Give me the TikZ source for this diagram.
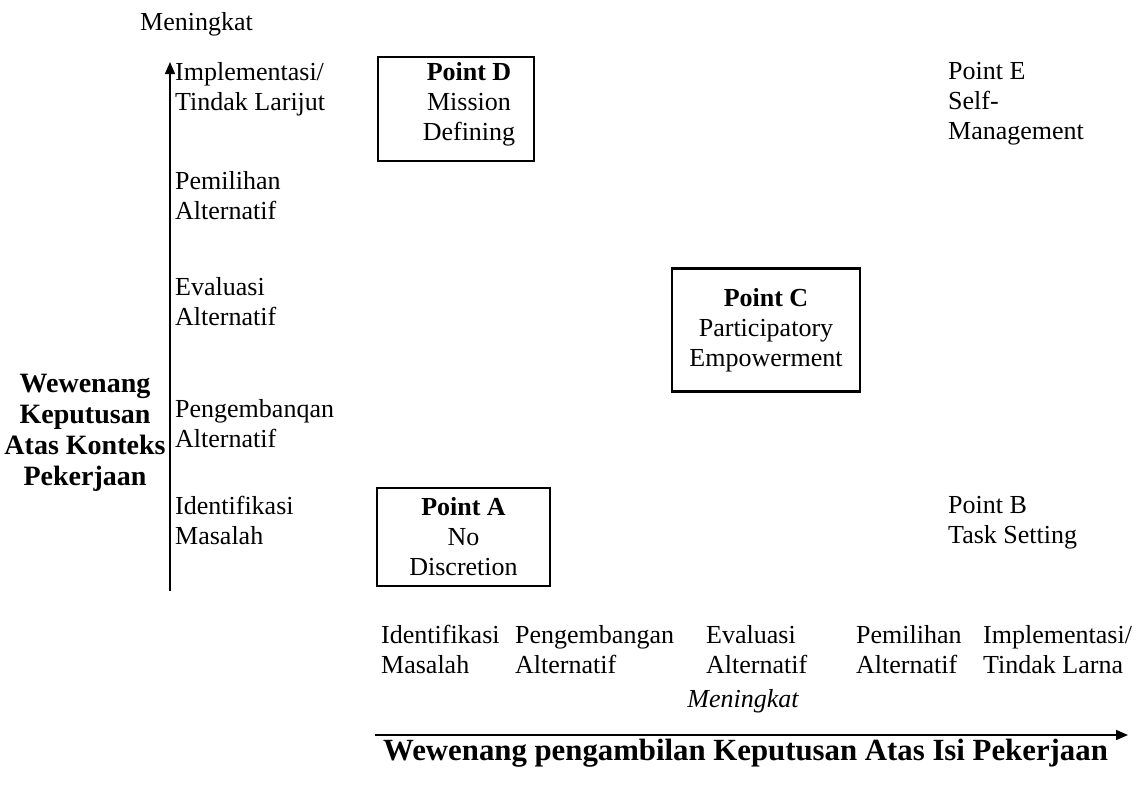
\documentclass[tikz,border=0pt]{standalone}
\usepackage{fontspec}
\setmainfont{Liberation Serif}
\usetikzlibrary{arrows.meta}
\newcommand{\bodyfont}{\fontsize{26}{30}\selectfont}
\newcommand{\sidefont}{\fontsize{28}{31}\selectfont\bfseries}
\newcommand{\titlefont}{\fontsize{30.8}{34}\selectfont\bfseries}
\begin{document}
\begin{tikzpicture}[x=1pt,y=-1pt,
  txt/.style={font=\bodyfont, inner sep=0pt, align=left, anchor=north west},
  pointbox/.style={draw, line width=2.5pt, font=\bodyfont, align=center, inner sep=0pt},
  axis/.style={line width=1.6pt, -{Triangle[length=12pt,width=10pt]}}]
\useasboundingbox (0,0) rectangle (1144,793);

% vertical axis
\coordinate (vb) at (170,591);
\coordinate (vt) at (170,62);
\draw[axis] (vb) -- (vt);
\node[font=\bodyfont, inner sep=0pt, anchor=base west] (mtop) at (140,30) {Meningkat};

% left labels
\node[txt] (l1) at (175,62) {Implementasi/\\Tindak Larijut};
\node[txt] (l2) at (175,171) {Pemilihan\\Alternatif};
\node[txt] (l3) at (175,277) {Evaluasi\\Alternatif};
\node[txt] (l4) at (175,399) {Pengembanqan\\Alternatif};
\node[txt] (l5) at (175,496) {Identifikasi\\Masalah};

\node[font=\sidefont, inner sep=0pt, align=center, anchor=north] (side) at (85,374)
  {Wewenang\\Keputusan\\Atas Konteks\\Pekerjaan};

% boxes
\node[pointbox, minimum width=156pt, minimum height=104pt] (Dbox) at (456,109) {};
\node[font=\bodyfont, inner sep=0pt, align=center, anchor=north] (D) at (469,62)
  {\textbf{Point D}\\Mission\\Defining};
\node[pointbox, minimum width=188pt, minimum height=123pt] (C) at (766,330)
  {\textbf{Point C}\\Participatory\\Empowerment};
\node[pointbox, minimum width=173pt, minimum height=98pt] (A) at (463.5,537)
  {\textbf{Point A}\\No\\Discretion};

\node[txt] (E) at (948,62) {Point E\\Self-\\Management};
\node[txt] (B) at (948,496) {Point B\\Task Setting};

% bottom labels
\node[txt] (b1) at (381,625) {Identifikasi\\Masalah};
\node[txt] (b2) at (515,625) {Pengembangan\\Alternatif};
\node[txt] (b3) at (706,625) {Evaluasi\\Alternatif};
\node[txt] (b4) at (856,625) {Pemilihan\\Alternatif};
\node[txt] (b5) at (983,625) {Implementasi/\\Tindak Larna};

\node[font=\bodyfont\itshape, inner sep=0pt, anchor=base] (mbot) at (743,707) {Meningkat};

% horizontal axis
\coordinate (hl) at (375,735);
\coordinate (hr) at (1128,735);
\draw[axis] (hl) -- (hr);
\node[font=\titlefont, inner sep=0pt, anchor=base west] (title) at (383,760)
  {Wewenang pengambilan Keputusan Atas Isi Pekerjaan};
\end{tikzpicture}
\end{document}
